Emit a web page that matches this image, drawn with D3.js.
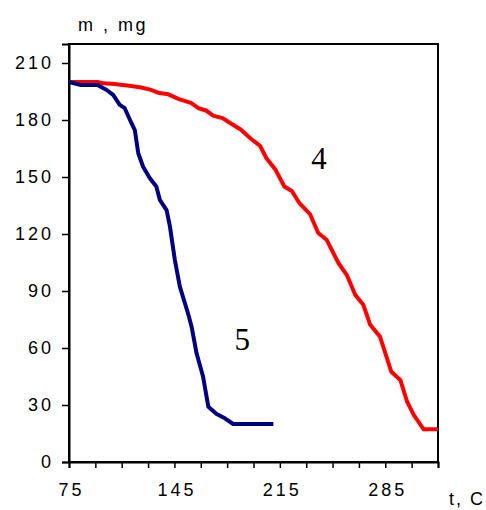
<!DOCTYPE html>
<html>
<head>
<meta charset="utf-8">
<script src="https://cdn.jsdelivr.net/npm/d3@7"></script>
<style>
  body { margin: 0; background: #fff; }
  text { font-family: Arial, "Liberation Sans", sans-serif; }
</style>
</head>
<body>
<div class="chart"></div>
<script>
// ------------------------------------------------------
const width = 486;
const height = 510;
// curve 4 (red): [t, m]
const series4 = [
    [75, 200], [94, 200], [98, 199.3], [105, 199], [115, 198], [122, 197.2],
    [129, 196], [135, 194.2], [141, 193.5], [148, 191], [156, 189], [161, 186.2],
    [166, 185], [171, 182.2], [177, 181], [182, 178.4], [189, 175], [196, 170],
    [202, 166.3], [206, 160], [212, 154], [218, 145], [223, 142.6], [228, 136.2],
    [235, 130.5], [240.5, 120.5], [246, 117], [254, 104.6], [259.5, 98.4], [265, 88],
    [270.5, 82.6], [275, 72.2], [281.5, 66], [289, 47.5], [295, 43.2], [299.5, 31.7],
    [304, 24.7], [310.5, 17.2], [320, 17.2]
];
// curve 5 (blue): [t, m]
const series5 = [
    [75, 200], [83, 198.4], [94, 198.4], [100, 195.8], [104.3, 193.2], [108.7, 188],
    [112, 186.2], [116.5, 178.3], [118.7, 174.7], [121, 162.5], [124.2, 155.4],
    [128.7, 149.3], [133, 145], [135.3, 138], [139.8, 132.6], [142, 124],
    [145.3, 106.3], [148.6, 92.3], [154, 78.3], [156.4, 71.2], [159.7, 57.2],
    [164, 45], [167.5, 29.1], [173, 25.3], [178.5, 23], [184, 20], [210.7, 20]
];
const yTicks = [0, 30, 60, 90, 120, 150, 180, 210];
const xTicks = [75, 92.5, 110, 127.5, 145, 162.5, 180, 197.5, 215, 232.5, 250, 267.5, 285, 302.5, 320];
const xTickLabels = [75, 145, 215, 285];
// ------------------------------------------------------
const svg = d3.select('.chart')
    .append('svg')
    .attr('width', width)
    .attr('height', height);

const x = d3.scaleLinear().domain([75, 320]).range([69, 438]);
const y = d3.scaleLinear().domain([0, 220]).range([462, 44]);

// frame
svg.append('rect')
    .attr('x', x(75))
    .attr('y', y(220))
    .attr('width', x(320) - x(75))
    .attr('height', y(0) - y(220))
    .attr('fill', 'none')
    .attr('stroke', '#000')
    .attr('stroke-width', 2);

// y axis
const yAxis = svg.append('g')
    .attr('transform', 'translate(' + x(75) + ',0)')
    .call(d3.axisLeft(y).tickValues(yTicks).tickSize(7).tickPadding(11).tickFormat(d3.format('d')));
yAxis.select('.domain').attr('stroke-width', 2);
yAxis.selectAll('.tick line').attr('stroke-width', 1.5);
yAxis.selectAll('.tick text')
    .attr('font-size', 18)
    .attr('fill', '#000')
    .attr('dy', '0.32em')
    .attr('dx', 3)
    .style('letter-spacing', '3px');

// x axis
const xAxis = svg.append('g')
    .attr('transform', 'translate(0,' + y(0) + ')')
    .call(d3.axisBottom(x).tickValues(xTicks).tickSize(6).tickPadding(15)
        .tickFormat(d => xTickLabels.includes(d) ? d : ''));
xAxis.select('.domain').attr('stroke-width', 2);
xAxis.selectAll('.tick line').attr('stroke-width', 1.5);
xAxis.selectAll('.tick text')
    .attr('font-size', 18)
    .attr('fill', '#000')
    .attr('dx', 2)
    .style('letter-spacing', '3px');

// axis titles
svg.append('text')
    .attr('x', 78).attr('y', 31)
    .attr('font-size', 18)
    .style('letter-spacing', '2.5px')
    .text('m , mg');
svg.append('text')
    .attr('x', 449).attr('y', 505)
    .attr('font-size', 18)
    .style('letter-spacing', '2px')
    .text('t, C');

// curves
const line = d3.line()
    .x(d => x(d[0]))
    .y(d => y(d[1]));

svg.append('path')
    .datum(series4)
    .attr('d', line)
    .attr('fill', 'none')
    .attr('stroke', '#ff0000')
    .attr('stroke-width', 4)
    .attr('stroke-linejoin', 'round');

svg.append('path')
    .datum(series5)
    .attr('d', line)
    .attr('fill', 'none')
    .attr('stroke', '#000080')
    .attr('stroke-width', 4)
    .attr('stroke-linejoin', 'round');

// curve labels
svg.append('text')
    .attr('x', x(241)).attr('y', y(154))
    .attr('text-anchor', 'middle')
    .attr('font-size', 31)
    .style('font-family', '"Liberation Serif", "Times New Roman", serif')
    .text('4');
svg.append('text')
    .attr('x', x(190)).attr('y', y(59))
    .attr('text-anchor', 'middle')
    .attr('font-size', 31)
    .style('font-family', '"Liberation Serif", "Times New Roman", serif')
    .text('5');
</script>
</body>
</html>
